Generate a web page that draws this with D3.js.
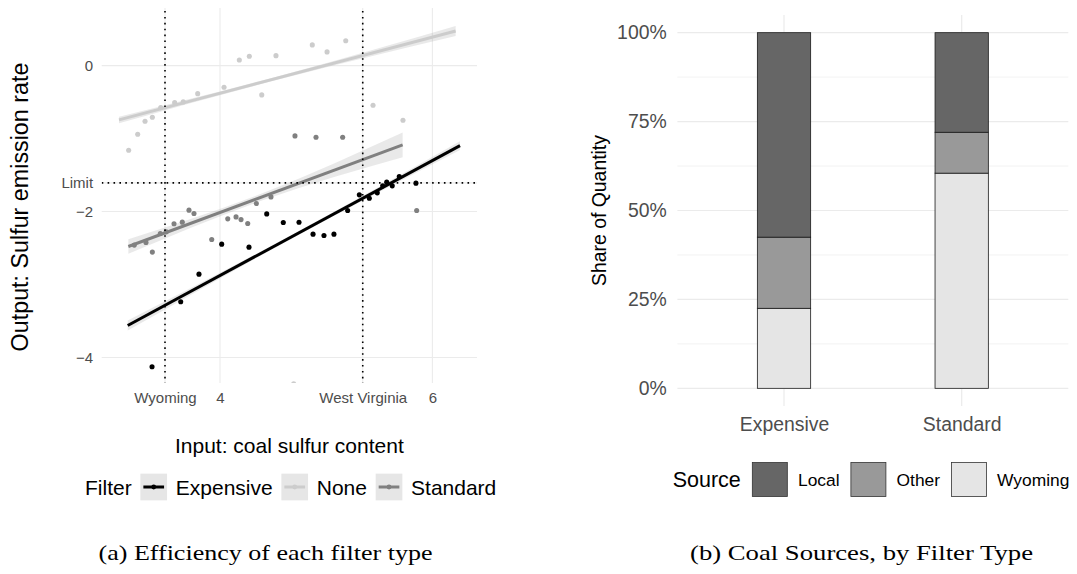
<!DOCTYPE html>
<html>
<head>
<meta charset="utf-8">
<script src="https://cdn.jsdelivr.net/npm/d3@7"></script>
<style>
  body { margin: 0; background: #fff; }
  text { font-family: "Liberation Sans", Arial, sans-serif; }
</style>
</head>
<body>
<svg id="fig" width="1077" height="574"></svg>
<script>
// ---- left panel data: sulfur in coal vs sulfur emitted, by filter ----
const filterNames = ["Expensive", "None", "Standard"];

const expensiveX = [3.360, 3.630, 3.802, 4.016, 4.273, 4.440, 4.596, 4.744, 4.876, 4.979,
                    5.073, 5.202, 5.312, 5.406, 5.481, 5.532, 5.570, 5.622, 5.688, 5.845];
const expensiveY = [-4.127, -3.237, -2.858, -2.447, -2.488, -2.032, -2.151, -2.146, -2.310, -2.329,
                    -2.310, -1.986, -1.771, -1.817, -1.744, -1.648, -1.597, -1.648, -1.521, -1.611];

const noneX = [3.140, 3.225, 3.294, 3.363, 3.442, 3.573, 3.654, 3.790, 4.038, 4.182,
               4.276, 4.393, 4.527, 4.869, 5.008, 5.184, 5.441, 5.723, 4.694];
const noneY = [-1.159, -0.940, -0.762, -0.707, -0.575, -0.507, -0.497, -0.384, -0.296, 0.078,
               0.129, -0.401, 0.137, 0.284, 0.188, 0.342, -0.543, -0.748, -4.36];

const standardX = [3.193, 3.303, 3.363, 3.438, 3.494, 3.567, 3.645, 3.708, 3.755, 3.922,
                   4.073, 4.151, 4.198, 4.261, 4.342, 4.480, 4.706, 4.904, 5.155, 5.852];
const standardY = [-2.460, -2.425, -2.556, -2.301, -2.278, -2.168, -2.145, -1.981, -2.027, -2.384,
                   -2.100, -2.073, -2.110, -2.164, -1.890, -1.799, -0.963, -0.981, -0.981, -1.986];

// fitted lines: [x start, x end], [y start, y end], band half-widths at start / middle / end
const fitX = { Expensive: [3.131, 6.26], None: [3.049, 6.219], Standard: [3.137, 5.72] };
const fitY = { Expensive: [-3.562, -1.096], None: [-0.744, 0.475], Standard: [-2.479, -1.086] };
const fitBand = { Expensive: [0.07, 0.025, 0.06], None: [0.045, 0.025, 0.07], Standard: [0.1, 0.05, 0.17] };

// axis breaks
const xBreaks = [3.482, 4, 5.344, 6];
const xBreakLabels = ["Wyoming", "4", "West Virginia", "6"];
const yBreaks = [-4, -2, -1.607, 0];
const yBreakLabels = ["\u22124", "\u22122", "Limit", "0"];

// ---- right panel data: coal sources by filter type ----
const barFilters = ["Expensive", "Standard"];
const sources = ["Local", "Other", "Wyoming"];
const shareLocal = [0.575, 0.28];
const shareOther = [0.2, 0.115];
const shareWyoming = [0.225, 0.605];
const shareBreaks = [0, 0.25, 0.5, 0.75, 1];

const svg = d3.select("#fig");
const grid = "#ebebeb";
const tickColor = "#4d4d4d";

// ===================== left panel =====================
const seriesColor = { Expensive: "#000000", None: "#cccccc", Standard: "#808080" };
const pointsBy = {
  Expensive: expensiveX.map((x, i) => ({ x, y: expensiveY[i] })),
  None: noneX.map((x, i) => ({ x, y: noneY[i] })),
  Standard: standardX.map((x, i) => ({ x, y: standardY[i] }))
};

const L = { left: 101.7, right: 477, top: 8, bottom: 383 };
const xL = d3.scaleLinear().domain([2.886, 6.42]).range([L.left, L.right]);
const yL = d3.scaleLinear().domain([-4.35, 0.79]).range([L.bottom, L.top]);

const left = svg.append("g");
left.append("clipPath").attr("id", "clipL")
  .append("rect").attr("x", L.left).attr("y", L.top)
  .attr("width", L.right - L.left).attr("height", L.bottom - L.top);

// grid
left.selectAll(".vgrid").data(xBreaks).enter().append("line")
  .attr("x1", d => xL(d)).attr("x2", d => xL(d))
  .attr("y1", L.top).attr("y2", L.bottom)
  .attr("stroke", grid).attr("stroke-width", 1.1);
left.selectAll(".hgrid").data(yBreaks).enter().append("line")
  .attr("y1", d => yL(d)).attr("y2", d => yL(d))
  .attr("x1", L.left).attr("x2", L.right)
  .attr("stroke", grid).attr("stroke-width", 1.1);

// axes (text only)
const xAxisL = left.append("g").attr("transform", `translate(0,${L.bottom})`)
  .call(d3.axisBottom(xL).tickValues(xBreaks).tickFormat((d, i) => xBreakLabels[i]).tickSize(0).tickPadding(9.8));
const yAxisL = left.append("g").attr("transform", `translate(${L.left},0)`)
  .call(d3.axisLeft(yL).tickValues(yBreaks).tickFormat((d, i) => yBreakLabels[i]).tickSize(0).tickPadding(8.6));
[xAxisL, yAxisL].forEach(a => {
  a.select(".domain").remove();
  a.selectAll("text").attr("font-size", 15).attr("fill", tickColor)
    .style("font-family", '"Liberation Sans", Arial, sans-serif');
});

const plot = left.append("g").attr("clip-path", "url(#clipL)");

// confidence bands
const fitAt = (k, x) => {
  const [x0, x1] = fitX[k], [y0, y1] = fitY[k];
  return y0 + (y1 - y0) * (x - x0) / (x1 - x0);
};
filterNames.forEach(k => {
  const [x0, x1] = fitX[k];
  const pts = [x0, (x0 + x1) / 2, x1].map((x, i) => ({ x, y: fitAt(k, x), h: fitBand[k][i] }));
  plot.append("path").datum(pts)
    .attr("d", d3.area().curve(d3.curveNatural)
      .x(d => xL(d.x)).y0(d => yL(d.y - d.h)).y1(d => yL(d.y + d.h)))
    .attr("fill", "#999999").attr("fill-opacity", 0.22);
});

// points
["None", "Standard", "Expensive"].forEach(k => {
  plot.selectAll(null).data(pointsBy[k]).enter().append("circle")
    .attr("cx", d => xL(d.x)).attr("cy", d => yL(d.y)).attr("r", 2.55)
    .attr("fill", seriesColor[k]);
});

// fitted lines
["None", "Standard", "Expensive"].forEach(k => {
  plot.append("line")
    .attr("x1", xL(fitX[k][0])).attr("y1", yL(fitY[k][0]))
    .attr("x2", xL(fitX[k][1])).attr("y2", yL(fitY[k][1]))
    .attr("stroke", seriesColor[k]).attr("stroke-width", 3);
});

// dotted reference lines
const dots = { stroke: "#000", "stroke-width": 1.6, "stroke-dasharray": "1.6,4.3" };
[xBreaks[0], xBreaks[2]].forEach(v => {
  const ln = plot.append("line").attr("x1", xL(v)).attr("x2", xL(v)).attr("y1", L.top + 3).attr("y2", L.bottom);
  Object.entries(dots).forEach(([a, b]) => ln.attr(a, b));
});
{
  const ln = plot.append("line").attr("y1", yL(yBreaks[2])).attr("y2", yL(yBreaks[2]))
    .attr("x1", L.left).attr("x2", L.right);
  Object.entries(dots).forEach(([a, b]) => ln.attr(a, b));
}

// axis titles
left.append("text").attr("x", (L.left + L.right) / 2).attr("y", 452.5)
  .attr("text-anchor", "middle").attr("font-size", 21).text("Input: coal sulfur content");
left.append("text").attr("transform", "translate(27.5,207) rotate(-90)")
  .attr("text-anchor", "middle").attr("font-size", 23.3).text("Output: Sulfur emission rate");

// legend
{
  const lg = left.append("g");
  const cy = 487, key = 26.7, gap = 8.7;
  let cx = 85;
  const t = lg.append("text").attr("x", cx).attr("y", cy + 7.5).attr("font-size", 21).text("Filter");
  cx += t.node().getComputedTextLength() + gap;
  filterNames.forEach(k => {
    lg.append("rect").attr("x", cx).attr("y", cy - key / 2).attr("width", key).attr("height", key).attr("fill", "#e6e6e6");
    lg.append("line").attr("x1", cx + 3).attr("x2", cx + key - 3).attr("y1", cy).attr("y2", cy)
      .attr("stroke", seriesColor[k]).attr("stroke-width", 3);
    lg.append("circle").attr("cx", cx + key / 2).attr("cy", cy).attr("r", 2.4).attr("fill", seriesColor[k]);
    cx += key + gap;
    const lt = lg.append("text").attr("x", cx).attr("y", cy + 7.5).attr("font-size", 21).text(k);
    cx += lt.node().getComputedTextLength() + gap;
  });
}

// ===================== right panel =====================
const R = { left: 677.4, right: 1068.3, top: 14.9, bottom: 406.1 };
const xR = d3.scalePoint().domain(barFilters).range([R.left, R.right]).padding(0.6);
const yR = d3.scaleLinear().domain([-0.05, 1.05]).range([R.bottom, R.top]);
const right = svg.append("g");

const minorBreaks = d3.pairs(shareBreaks).map(([a, b]) => (a + b) / 2);
right.selectAll(".minor").data(minorBreaks).enter().append("line")
  .attr("x1", R.left).attr("x2", R.right).attr("y1", d => yR(d)).attr("y2", d => yR(d))
  .attr("stroke", grid).attr("stroke-width", 0.6);
right.selectAll(".major").data(shareBreaks).enter().append("line")
  .attr("x1", R.left).attr("x2", R.right).attr("y1", d => yR(d)).attr("y2", d => yR(d))
  .attr("stroke", grid).attr("stroke-width", 1.2);
right.selectAll(".vmajor").data(barFilters).enter().append("line")
  .attr("x1", d => xR(d)).attr("x2", d => xR(d)).attr("y1", R.top).attr("y2", R.bottom)
  .attr("stroke", grid).attr("stroke-width", 1.2);

const barRows = barFilters.map((f, i) => ({ filter: f, Local: shareLocal[i], Other: shareOther[i], Wyoming: shareWyoming[i] }));
const stacked = d3.stack().keys(["Wyoming", "Other", "Local"])(barRows);
const sourceFill = { Local: "#666666", Other: "#999999", Wyoming: "#e5e5e5" };
const barW = xR.step() * 0.3;
stacked.forEach(layer => {
  right.selectAll(null).data(layer).enter().append("rect")
    .attr("x", d => xR(d.data.filter) - barW / 2).attr("width", barW)
    .attr("y", d => yR(d[1])).attr("height", d => yR(d[0]) - yR(d[1]))
    .attr("fill", sourceFill[layer.key]).attr("stroke", "#1a1a1a").attr("stroke-width", 0.8);
});

const xAxisR = right.append("g").attr("transform", `translate(0,${R.bottom})`)
  .call(d3.axisBottom(xR).tickSize(0).tickPadding(11));
const yAxisR = right.append("g").attr("transform", `translate(${R.left},0)`)
  .call(d3.axisLeft(yR).tickValues(shareBreaks).tickFormat(d3.format(".0%")).tickSize(0).tickPadding(10.7));
[xAxisR, yAxisR].forEach(a => {
  a.select(".domain").remove();
  a.selectAll("text").attr("font-size", 19.4).attr("fill", tickColor)
    .style("font-family", '"Liberation Sans", Arial, sans-serif');
});

right.append("text").attr("transform", `translate(606,${(R.top + R.bottom) / 2}) rotate(-90)`)
  .attr("text-anchor", "middle").attr("font-size", 19.4).text("Share of Quantity");

// legend
{
  const lg = right.append("g");
  const cy = 479.5, kw = 35, kh = 34;
  let cx = 672.7;
  const t = lg.append("text").attr("x", cx).attr("y", cy + 7.7).attr("font-size", 21.5).text("Source");
  cx += t.node().getComputedTextLength() + 11.5;
  sources.forEach(s => {
    lg.append("rect").attr("x", cx).attr("y", cy - kh / 2).attr("width", kw).attr("height", kh)
      .attr("fill", sourceFill[s]).attr("stroke", "#333").attr("stroke-width", 0.8);
    cx += kw + 10.7;
    const lt = lg.append("text").attr("x", cx).attr("y", cy + 6.2).attr("font-size", 17.4).text(s);
    cx += lt.node().getComputedTextLength() + 11.3;
  });
}

// ===================== captions =====================
const captions = [
  { text: "(a) Efficiency of each filter type", x: 265.5, w: 334 },
  { text: "(b) Coal Sources, by Filter Type", x: 861.5, w: 343 }
];
svg.selectAll(".cap").data(captions).enter().append("text")
  .attr("x", d => d.x).attr("y", 560).attr("text-anchor", "middle")
  .attr("font-size", 21).style("font-family", '"Liberation Serif", "Times New Roman", serif')
  .attr("textLength", d => d.w).attr("lengthAdjust", "spacingAndGlyphs")
  .text(d => d.text);
</script>
</body>
</html>
